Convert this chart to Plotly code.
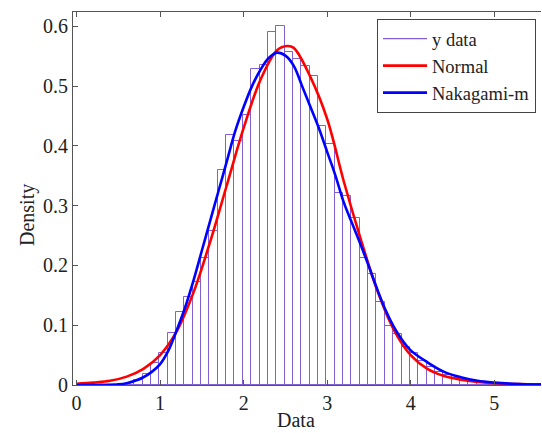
import plotly.graph_objects as go

# histogramme (densité) : bacs de largeur 0.1 à partir de 0.59
bin_start = 0.59
bin_width = 0.1
densite = [0.004, 0.008, 0.018, 0.036, 0.053, 0.087, 0.122, 0.147, 0.172, 0.212,
           0.257, 0.360, 0.418, 0.408, 0.452, 0.529, 0.535, 0.591, 0.600, 0.557,
           0.545, 0.534, 0.517, 0.434, 0.404, 0.322, 0.317, 0.280, 0.212, 0.186,
           0.139, 0.098, 0.086, 0.064, 0.053, 0.040, 0.030, 0.022, 0.016, 0.012,
           0.009, 0.007, 0.005, 0.004, 0.003]
centres = [round(bin_start + bin_width * (i + 0.5), 3) for i in range(len(densite))]

# courbe Normal
normal_x = [0.0, 0.2, 0.4, 0.6, 0.8, 1.0, 1.2, 1.4, 1.6, 1.8, 2.0, 2.2, 2.4, 2.52, 2.6,
            2.8, 3.0, 3.2, 3.4, 3.6, 3.8, 4.0, 4.2, 4.4, 4.6, 4.8, 5.0, 5.3, 5.6]
normal_y = [0.002, 0.004, 0.007, 0.014, 0.027, 0.050, 0.090, 0.155, 0.240, 0.335, 0.430,
            0.510, 0.560, 0.567, 0.564, 0.515, 0.445, 0.340, 0.245, 0.158, 0.092, 0.050,
            0.027, 0.015, 0.009, 0.005, 0.003, 0.0015, 0.001]

# courbe Nakagami-m
naka_x = [0.0, 0.3, 0.5, 0.6, 0.7, 0.8, 0.9, 1.0, 1.1, 1.2, 1.3, 1.4, 1.5, 1.6, 1.7, 1.8,
          1.9, 2.0, 2.1, 2.2, 2.3, 2.4, 2.5, 2.6, 2.7, 2.8, 2.9, 3.0, 3.1, 3.2, 3.3, 3.4,
          3.5, 3.6, 3.7, 3.8, 3.9, 4.0, 4.2, 4.4, 4.6, 4.8, 5.0, 5.3, 5.6]
naka_y = [0.0, 0.0003, 0.001, 0.003, 0.007, 0.013, 0.022, 0.035, 0.058, 0.092, 0.130,
          0.175, 0.225, 0.275, 0.325, 0.375, 0.425, 0.465, 0.500, 0.527, 0.547, 0.556,
          0.551, 0.534, 0.500, 0.465, 0.430, 0.390, 0.350, 0.305, 0.270, 0.235, 0.198,
          0.160, 0.125, 0.097, 0.075, 0.058, 0.038, 0.022, 0.013, 0.007, 0.004, 0.0015,
          0.0005]

violet = '#8060d4'
police = 'Liberation Serif'

fig = go.Figure()
fig.add_trace(go.Bar(x=centres, y=densite, width=bin_width, showlegend=False,
                     marker=dict(color='rgba(0,0,0,0)', line=dict(color=violet, width=1))))
# entrée de légende en forme de ligne pour l'histogramme
fig.add_trace(go.Scatter(x=[None], y=[None], mode='lines', name='y data',
                         line=dict(color=violet, width=1.2)))
fig.add_trace(go.Scatter(x=normal_x, y=normal_y, mode='lines', name='Normal',
                         line=dict(color='#ff0000', width=2.6, shape='spline')))
fig.add_trace(go.Scatter(x=naka_x, y=naka_y, mode='lines', name='Nakagami-m',
                         line=dict(color='#0000ff', width=2.6, shape='spline')))

# marges en pixels
m_l, m_r, m_t, m_b = 73, 1, 12, 48
w_plot, h_plot = 542 - m_l - m_r, 433 - m_t - m_b

fig.update_layout(
    width=542, height=433,
    margin=dict(l=m_l, r=m_r, t=m_t, b=m_b, autoexpand=False),
    paper_bgcolor='white', plot_bgcolor='white',
    font=dict(family=police, size=20, color='#222222'),
    bargap=0,
    legend=dict(x=(377 - m_l) / w_plot, y=(433 - m_b - 19) / h_plot,
                xanchor='left', yanchor='top',
                bgcolor='white', bordercolor='#444444', borderwidth=1,
                itemwidth=44, font=dict(size=18.5), tracegroupgap=0),
    annotations=[
        dict(text='Data', xref='paper', yref='paper', showarrow=False,
             x=(296 - m_l) / w_plot, y=(433 - m_b - 420) / h_plot,
             xanchor='center', yanchor='middle'),
        dict(text='Density', xref='paper', yref='paper', showarrow=False, textangle=-90,
             x=(28 - m_l) / w_plot, y=(433 - m_b - 215) / h_plot,
             xanchor='center', yanchor='middle'),
    ],
)

fig.update_xaxes(range=[-0.043, 5.56], tickvals=[0, 1, 2, 3, 4, 5],
                 ticks='inside', ticklen=5, tickcolor='#555555',
                 showline=True, linecolor='#555555', linewidth=1, mirror='ticks',
                 showgrid=False, zeroline=False, automargin=False)
fig.update_yaxes(range=[0, 0.624], tickvals=[0, 0.1, 0.2, 0.3, 0.4, 0.5, 0.6],
                 ticktext=['0', '0.1', '0.2', '0.3', '0.4', '0.5', '0.6'],
                 ticks='inside', ticklen=5, tickcolor='#555555',
                 showline=True, linecolor='#555555', linewidth=1,
                 showgrid=False, zeroline=False, automargin=False)

# la page a une marge de 8 px par défaut : on la retire
fig.write_html('out.html', config={'displayModeBar': False},
               post_script="document.body.style.margin='0';")
print('out.html généré')
